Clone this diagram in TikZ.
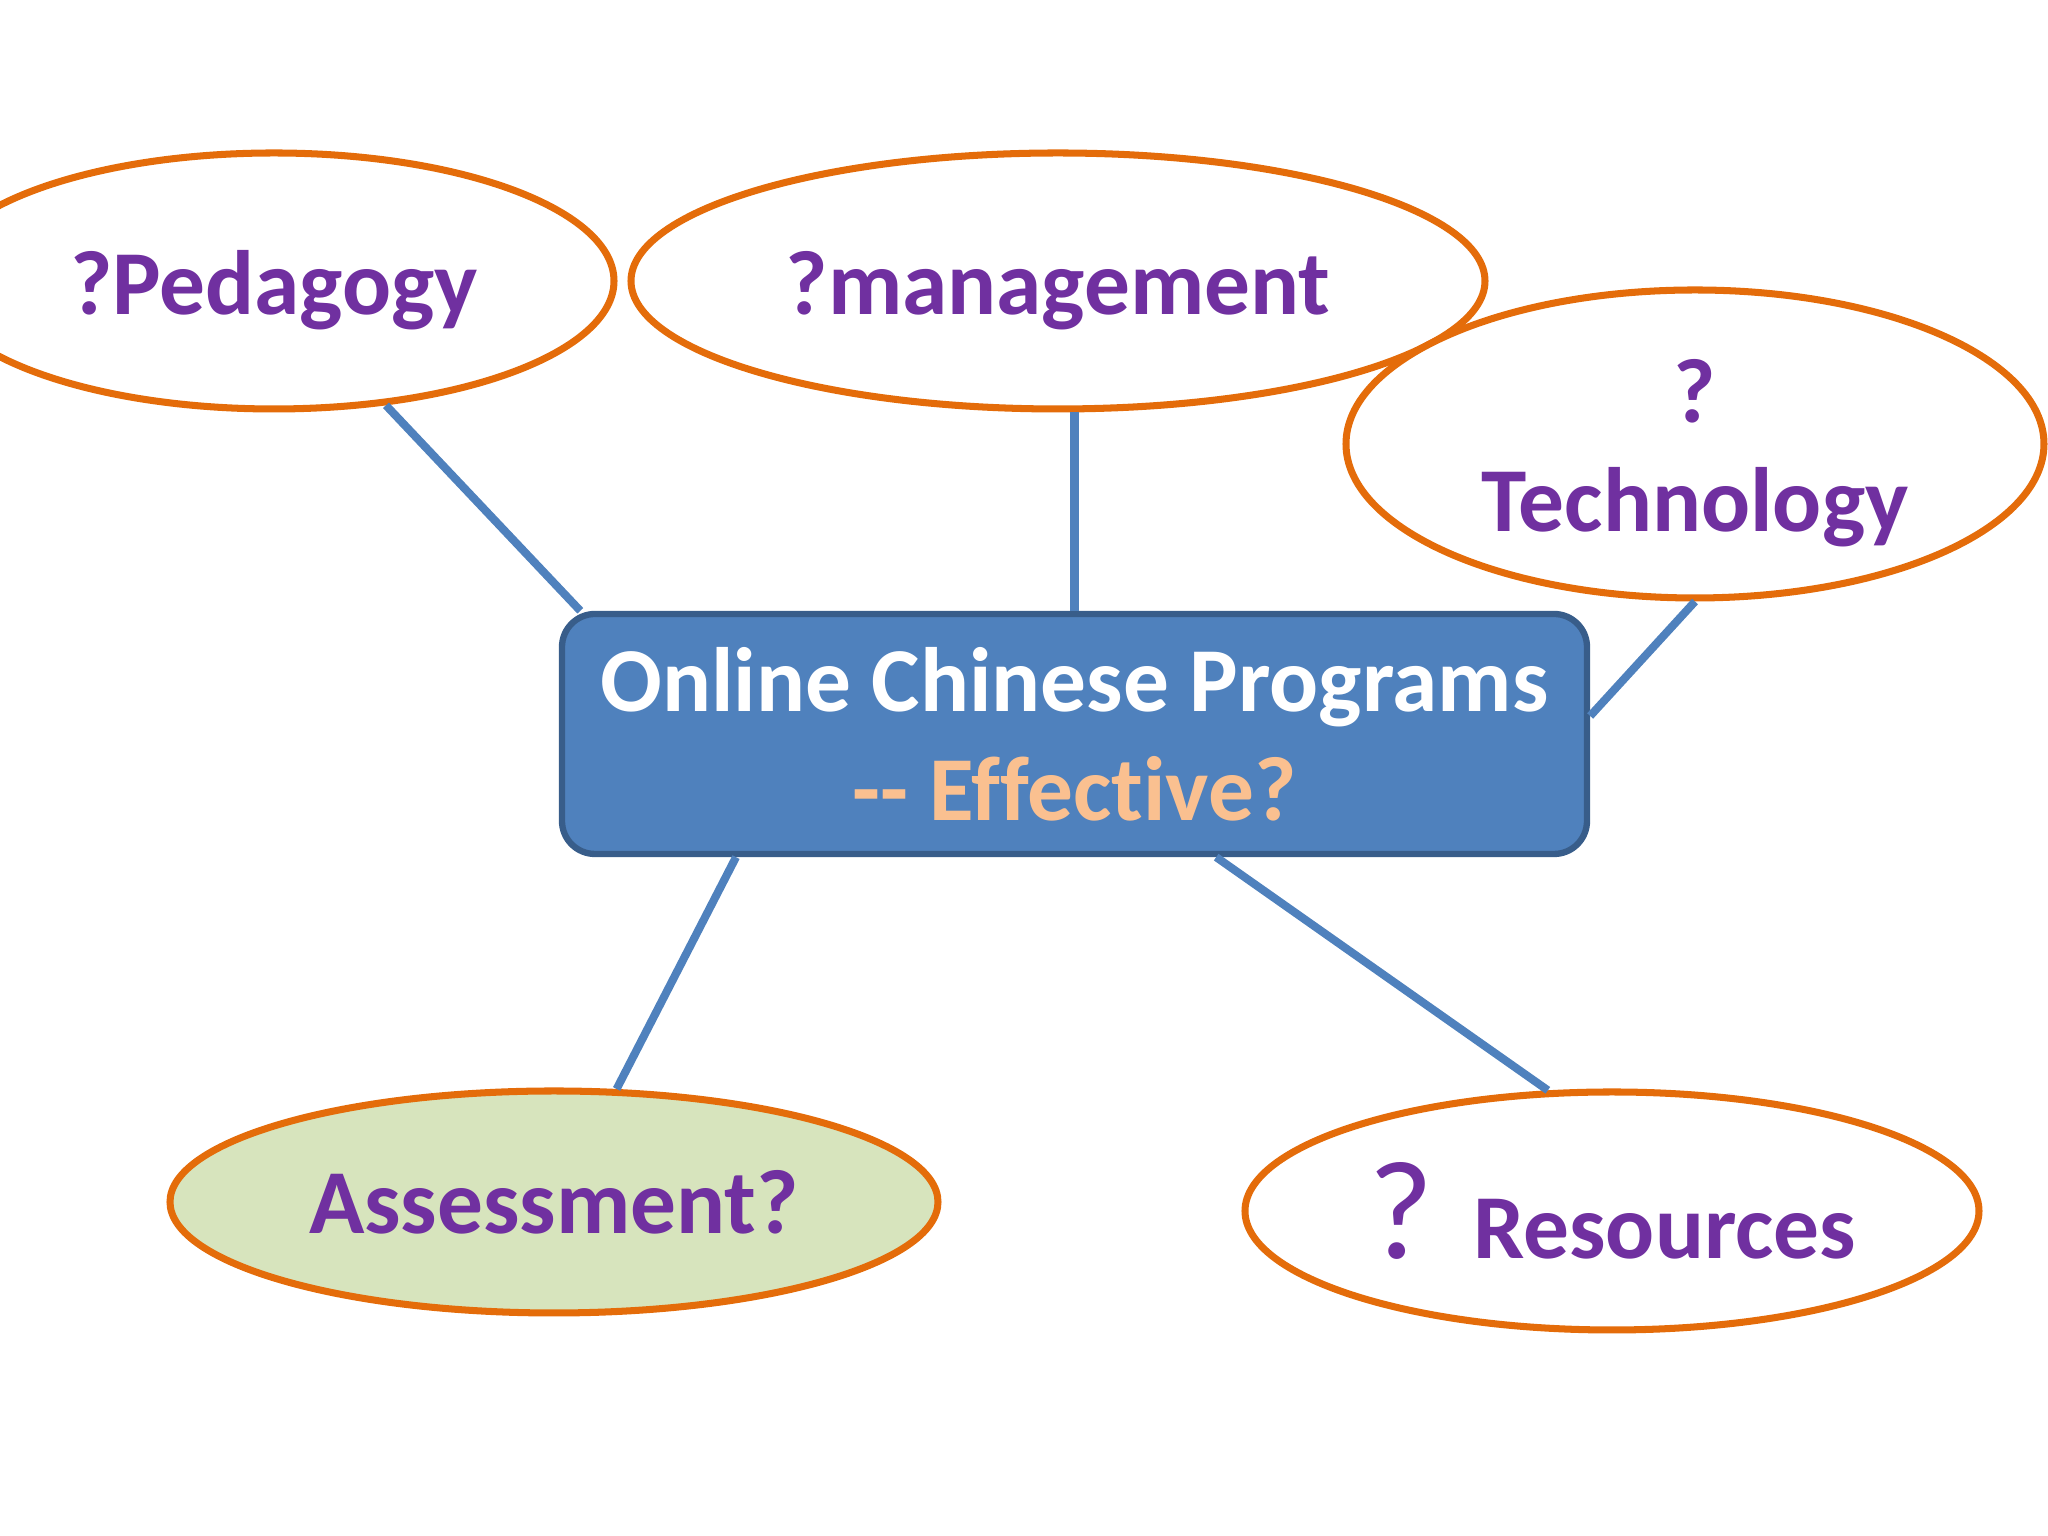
\documentclass[tikz,border=0pt]{standalone}
\usepackage{fontspec}
\setmainfont[Ligatures={TeX,NoCommon}]{Carlito}
\usetikzlibrary{shapes.geometric}

\definecolor{ringorange}{HTML}{E46C0A}
\definecolor{txtpurple}{HTML}{7030A0}
\definecolor{boxblue}{HTML}{4F81BD}
\definecolor{boxedge}{HTML}{385D8A}
\definecolor{effpeach}{HTML}{FAC090}
\definecolor{assessgreen}{HTML}{D7E4BD}

\tikzset{
	topic/.style = {ellipse, draw=ringorange, line width=2pt, fill=white, inner sep=0pt,
		text=txtpurple, align=center, font=\bfseries\fontsize{26}{31}\selectfont},
	hub/.style = {rectangle, rounded corners=0.33cm, draw=boxedge, line width=1.8pt,
		fill=boxblue, text=white, inner sep=0pt, align=center,
		font=\bfseries\fontsize{26}{31}\selectfont},
	link/.style = {boxblue, line width=2.3pt}
}

\begin{document}
\begin{tikzpicture}
		\useasboundingbox (0,0) rectangle (20.48,15.36);
		\clip (0,0) rectangle (20.48,15.36);
		
		\node [topic, minimum width=6.80cm, minimum height=2.56cm, text height=0.82cm] (ped) at (2.74,12.55) {?Pedagogy};
		\node [topic, minimum width=8.54cm, minimum height=2.56cm, text height=0.82cm] (mgmt) at (10.58,12.55) {?management};
		\node [topic, minimum width=6.98cm, minimum height=3.08cm] (tech) at (16.95,10.92) {\rule{0pt}{0.82cm}?\\Technology};
		
		\node [hub, minimum width=10.25cm, minimum height=2.40cm] (prog) at (10.745,8.02)
			{Online Chinese Programs\\\textcolor{effpeach}{-{}- Effective?}};
		
		\node [topic, fill=assessgreen, minimum width=7.68cm, minimum height=2.22cm] (assess) at (5.54,3.34) {Assessment?};
		\node [topic, minimum width=7.34cm, minimum height=2.38cm] (res) at (16.12,3.25)
			{{\mdseries\fontsize{40}{40}\selectfont ?}\hspace{0.4cm}Resources};
		
		\begin{scope}[link]
			\draw (ped.-48) -- (prog.166);
			\draw (mgmt.south -| prog.north) -- (prog.north);
			\draw (tech.south) -- (prog.2);
			\draw (assess.61) -- (prog.200);
			\draw (res.118) -- (prog.-41);
		\end{scope}
	\end{tikzpicture}
\end{document}
